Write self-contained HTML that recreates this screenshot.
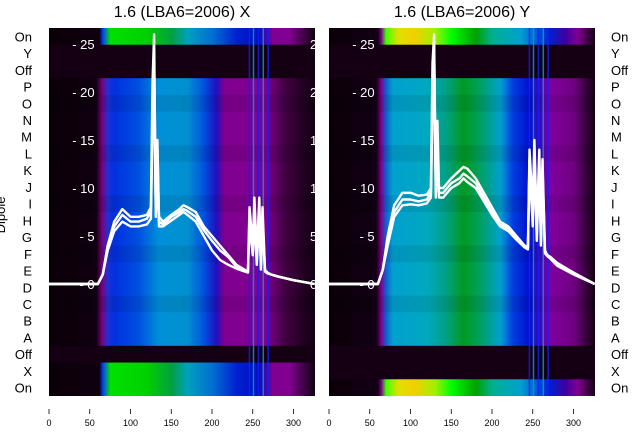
<!DOCTYPE html>
<html><head><meta charset="utf-8">
<style>
html,body{margin:0;padding:0;background:#fff;width:640px;height:440px;overflow:hidden;font-family:"Liberation Sans","DejaVu Sans",sans-serif}
</style></head>
<body>
<svg id="chart" width="640" height="440" viewBox="0 0 640 440" xmlns="http://www.w3.org/2000/svg">
<defs>
<linearGradient id="gLmid" x1="0" x2="1" y1="0" y2="0"></linearGradient>
<linearGradient id="gLon" x1="0" x2="1" y1="0" y2="0"></linearGradient>
<linearGradient id="gRmid" x1="0" x2="1" y1="0" y2="0"></linearGradient>
<linearGradient id="gRon" x1="0" x2="1" y1="0" y2="0"></linearGradient>
<clipPath id="clipL"><rect x="49" y="28" width="266" height="368"/></clipPath>
<clipPath id="clipR"><rect x="329" y="28" width="266" height="368"/></clipPath>
</defs>
<text x="182" y="17" font-size="16" text-anchor="middle" fill="#000">1.6 (LBA6=2006) X</text>
<text x="462" y="17" font-size="16" text-anchor="middle" fill="#000">1.6 (LBA6=2006) Y</text>
<text transform="translate(5,215) rotate(-90)" font-size="13" text-anchor="middle" fill="#000">Dipole</text>
<g id="left" clip-path="url(#clipL)"></g>
<g id="right" clip-path="url(#clipR)"></g>
<g id="labels"></g>
</svg>
<script>
const NS='http://www.w3.org/2000/svg';
const rowLabels=['On','Y','Off','P','O','N','M','L','K','J','I','H','G','F','E','D','C','B','A','Off','X','On'];
const leftRowKind=['on','off','off','mid','mid','mid','mid','mid','mid','mid','mid','mid','mid','mid','mid','mid','mid','mid','mid','off','on','on'];
const rightRowKind=['on','off','off','mid','mid','mid','mid','mid','mid','mid','mid','mid','mid','mid','mid','mid','mid','mid','mid','off','off','on'];
const xTicks=[0,50,100,150,200,250,300];
const yTicks=[0,5,10,15,20,25];
const freqX=[0,60,66,72,80,90,100,110,120,125,127,129,131,133,135,140,150,160,165,170,180,190,200,210,220,230,240,244,246,250,252,255,258,260,262,265,268,272,280,300,326];
const leftSeries=[
 [0,0,1,4,6.5,7.8,7,7,7.2,8,21,26,8,15,7,6.5,7.2,7.8,8.2,8,7.5,6,5,4,3,2,1.5,1.2,8,4,9,3,9,2,8,1.5,1.2,1,0.8,0.4,0],
 [0,0,1,4,6,7.2,6.5,6.5,6.8,7.5,18,24,7.5,14,6.5,6.2,7,7.5,7.8,7.6,7,5.6,4.5,3.5,2.8,1.8,1.4,1.2,7,3,8,2.5,8,2,7,1.4,1.2,1,0.8,0.4,0],
 [0,0,1,3.5,5.5,6.5,6,6,6.2,6.8,16,22,7,12,6,6,6.6,7.2,7.5,7.2,6.5,5,3.5,2.5,2,1.6,1.3,1.2,6,3,7,2,7,1.5,6,1.3,1.1,1,0.8,0.4,0]
];
const rightSeries=[
 [0,0,1.5,5,8.2,9.5,9.5,9.2,9.3,10,23,26,10,17,10,10,11,11.8,12.2,12,11,9.5,8,6.5,6,5,4,3.8,14,8,15,6,14,5,13,3.5,3,2.8,2.2,1.2,0],
 [0,0,1.5,4.5,7.5,8.8,8.8,8.6,8.8,9.5,20,25,9.5,15,9.5,9.5,10.5,11,11.5,11.2,10.5,9,7.5,6.2,5.8,4.8,3.9,3.7,13,7,14,5,13,4.5,12,3.3,3,2.7,2,1.1,0],
 [0,0,1.5,4,7,8.2,8.3,8.2,8.4,9,18,24,9,14,9,9,10,10.5,11,10.6,10,8.6,7.2,6,5.5,4.6,3.8,3.6,12,6,13,4.5,12,4,11,3.2,2.9,2.6,1.9,1,0]
];
const stripeFreqs=[245,250,256,262,268];
const gradStops={
 gLmid:[[0,'#0a0008'],[58,'#100010'],[65,'#7a0080'],[72,'#2030d0'],[80,'#0030e0'],[110,'#0050e0'],[135,'#0090d8'],[170,'#0090d0'],[190,'#0050e0'],[205,'#2010c0'],[215,'#800090'],[265,'#800090'],[290,'#400040'],[326,'#100010']],
 gLon:[[0,'#0a0008'],[62,'#100010'],[66,'#0040ff'],[75,'#00e000'],[120,'#00d000'],[150,'#00a040'],[170,'#00a0c0'],[200,'#0070d0'],[230,'#0020d0'],[255,'#0010c0'],[275,'#800090'],[295,'#800090'],[326,'#100010']],
 gRmid:[[0,'#0a0008'],[58,'#120014'],[64,'#800090'],[70,'#1060d0'],[78,'#00a0d0'],[120,'#00a8c0'],[145,'#00a080'],[165,'#009a20'],[185,'#00a060'],[210,'#00a0d0'],[225,'#0040e0'],[245,'#0010d0'],[270,'#8000a0'],[300,'#700080'],[326,'#100010']],
 gRon:[[0,'#0a0008'],[60,'#120014'],[64,'#800090'],[70,'#40ff00'],[85,'#e0e000'],[105,'#f0d000'],[130,'#a0f000'],[150,'#00ff00'],[180,'#00a000'],[200,'#00b090'],[235,'#00a0d0'],[270,'#0020d0'],[290,'#4000a0'],[305,'#800090'],[326,'#100010']]
};
for(const id in gradStops){
  const g=document.getElementById(id);
  gradStops[id].forEach(s=>{const st=document.createElementNS(NS,'stop');st.setAttribute('offset',(s[0]/326).toString());st.setAttribute('stop-color',s[1]);g.appendChild(st);});
}
const top0=28,rowH=368/22;
function xs(x0,v){return x0+v*0.815;}
function ys(v){return 284-v*9.6;}
function el(tag,attrs,parent){const e=document.createElementNS(NS,tag);for(const k in attrs)e.setAttribute(k,attrs[k]);parent.appendChild(e);return e;}
function panel(gid,x0,kinds,pre,series,axisSide){
  const g=document.getElementById(gid);
  kinds.forEach((k,i)=>{
    const fill=k==='off'?'#140012':'url(#'+pre+(k==='on'?'on':'mid')+')';
    const r=el('rect',{x:x0,y:top0+i*rowH,width:266,height:rowH+0.6,fill:fill},g);
    
    
    if(k==='mid'&&i%3===1){
      const sh=el('rect',{x:x0,y:top0+i*rowH,width:266,height:rowH,fill:'#000',opacity:0.08},g);
      
      
    }
  });
  stripeFreqs.forEach((f,j)=>{
    const s=el('rect',{x:xs(x0,f),y:top0,width:1.5,height:368,fill:j%2?'#00a0e0':'#1020ff',opacity:0.8},g);
    
    
  });
  yTicks.forEach(t=>{
    const tl=el('text',{x:xs(x0,56),y:ys(t)+5,'font-size':13,fill:'#fff','text-anchor':'end'},g);
    tl.textContent='- '+t;
    
    
    if(axisSide){
      const t2=el('text',{x:x0+261,y:ys(t)+5,'font-size':13,fill:'#fff'},g);
      t2.textContent=t;
      
      
    }
  });
  series.forEach((s,si)=>{
    const d=s.map((v,i)=>(i?'L':'M')+xs(x0,freqX[i]).toFixed(1)+','+ys(v).toFixed(1)).join(' ');
    const p=el('path',{d:d,fill:'none',stroke:'#fff','stroke-width':2.4,'stroke-linejoin':'round'},g);
    
    
  });
  xTicks.forEach(t=>{
    const x=xs(x0,t);
    const tk=el('line',{x1:x,x2:x,y1:409,y2:414,stroke:'#000','stroke-width':0.8},document.getElementById('labels'));
    
    
    const tl=el('text',{x:x,y:426,'font-size':9,'text-anchor':'middle',fill:'#000'},document.getElementById('labels'));
    tl.textContent=t;
    
    
  });
}
panel('left',49,leftRowKind,'gL',leftSeries,true);
panel('right',329,rightRowKind,'gR',rightSeries,false);
const lab=document.getElementById('labels');
rowLabels.forEach((r,i)=>{
  const y=top0+(i+0.5)*rowH+5;
  const a=el('text',{x:32,y:y,'font-size':13,'text-anchor':'end',fill:'#000'},lab);
  a.textContent=r;
  
  
  const b=el('text',{x:611,y:y,'font-size':13,fill:'#000'},lab);
  b.textContent=r;
  
  
});
</script>
</body></html>
